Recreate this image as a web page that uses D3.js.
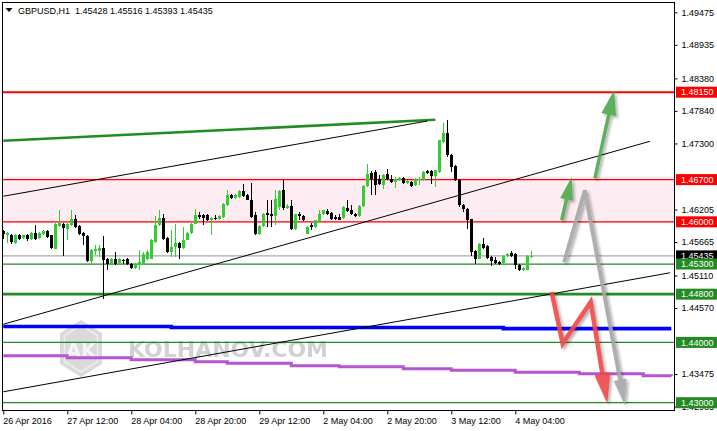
<!DOCTYPE html>
<html><head><meta charset="utf-8">
<script src="https://cdn.jsdelivr.net/npm/d3@7"></script>
<style>
html,body{margin:0;padding:0;background:#fff;}
svg{display:block;font-family:"Liberation Sans",Arial,sans-serif;}
</style></head>
<body>
<svg id="chart" width="717" height="431"></svg>
<script>
// ---------------- DATA ----------------
const symbolTitle = "GBPUSD,H1  1.45428 1.45516 1.45393 1.45435";
const timeLabels = ["26 Apr 2016","27 Apr 12:00","28 Apr 04:00","28 Apr 20:00","29 Apr 12:00","2 May 04:00","2 May 20:00","3 May 12:00","4 May 04:00"];
const timeTickBars = [0,16,32,48,64,80,96,112,128];
// axis ticks visible in the reference (1.46745 and 1.44030 are covered by level labels there)
const priceTicks = [1.49475,1.48935,1.48380,1.47840,1.47300,1.46205,1.45665,1.45110,1.44570,1.43475,1.42935];

const opens = [1.45848,1.45777,1.45777,1.45655,1.45777,1.45738,1.45777,1.45721,1.45821,1.45738,
1.45804,1.45843,1.45777,1.45555,1.45926,1.45970,1.45876,1.45942,1.46053,1.45926,
1.45815,1.45760,1.45345,1.45517,1.45511,1.45572,1.45384,1.45306,1.45384,1.45318,
1.45362,1.45378,1.45306,1.45235,1.45279,1.45306,1.45389,1.45389,1.45666,1.45942,
1.46064,1.45738,1.45500,1.45583,1.45649,1.45566,1.45705,1.45815,1.45970,1.46119,
1.46119,1.46119,1.46025,1.46070,1.46053,1.46081,1.46274,1.46451,1.46401,1.46412,
1.46512,1.46451,1.46368,1.46108,1.45793,1.45926,1.46147,1.46136,1.46091,1.46246,
1.46523,1.46235,1.46257,1.45887,1.46125,1.46103,1.45804,1.45942,1.45914,1.45997,
1.46136,1.46180,1.46152,1.46080,1.46080,1.46069,1.46235,1.46191,1.46125,1.46091,
1.46263,1.46589,1.46816,1.46827,1.46716,1.46606,1.46799,1.46716,1.46661,1.46689,
1.46727,1.46644,1.46661,1.46606,1.46689,1.46689,1.46844,1.46844,1.46761,1.46827,
1.47325,1.47474,1.47103,1.46921,1.46700,1.46285,1.46219,1.46042,1.45511,1.45389,
1.45627,1.45594,1.45417,1.45361,1.45334,1.45317,1.45433,1.45483,1.45461,1.45290,
1.45196,1.45207,1.45428];
const highs = [1.45871,1.45832,1.45793,1.45804,1.45793,1.45788,1.45804,1.45832,1.45942,1.45832,
1.45859,1.45859,1.45788,1.45987,1.46202,1.45987,1.45987,1.46191,1.46114,1.45942,
1.45832,1.45777,1.45544,1.45611,1.45622,1.45760,1.45401,1.45406,1.45500,1.45401,
1.45384,1.45395,1.45323,1.45323,1.45528,1.45495,1.45528,1.45710,1.46092,1.46191,
1.46136,1.45749,1.45859,1.45970,1.45666,1.45915,1.45832,1.45987,1.46219,1.46164,
1.46136,1.46136,1.46081,1.46108,1.46114,1.46313,1.46523,1.46468,1.46468,1.46523,
1.46634,1.46468,1.46645,1.46164,1.45942,1.46153,1.46357,1.46357,1.46523,1.46523,
1.46689,1.46291,1.46368,1.46136,1.46163,1.46114,1.45926,1.45981,1.46036,1.46202,
1.46202,1.46208,1.46163,1.46108,1.46136,1.46263,1.46368,1.46274,1.46147,1.46280,
1.46606,1.46965,1.46838,1.46855,1.46772,1.46799,1.46882,1.46772,1.46744,1.46744,
1.46744,1.46700,1.46678,1.46727,1.46744,1.46844,1.46855,1.46866,1.46866,1.47363,
1.47640,1.47695,1.47131,1.46938,1.46716,1.46302,1.46235,1.46053,1.45527,1.45649,
1.45738,1.45610,1.45439,1.45417,1.45350,1.45450,1.45483,1.45511,1.45483,1.45306,
1.45251,1.45444,1.45516];
const lows = [1.45721,1.45649,1.45638,1.45638,1.45694,1.45721,1.45683,1.45705,1.45694,1.45721,
1.45777,1.45738,1.45544,1.45544,1.45915,1.45428,1.45694,1.45931,1.45904,1.45777,
1.45611,1.45329,1.45306,1.45445,1.45417,1.44726,1.45196,1.45290,1.45279,1.45295,
1.45306,1.45290,1.45224,1.45218,1.45207,1.45295,1.45373,1.45378,1.45649,1.45926,
1.45694,1.45483,1.45417,1.45417,1.45378,1.45555,1.45694,1.45804,1.45959,1.46053,
1.45942,1.46014,1.45777,1.46025,1.46036,1.46070,1.46263,1.46385,1.46385,1.46401,
1.46412,1.46357,1.46070,1.45788,1.45777,1.45915,1.45915,1.45914,1.45942,1.46191,
1.46191,1.46213,1.45870,1.45870,1.46025,1.46009,1.45793,1.45870,1.45898,1.45981,
1.46119,1.46119,1.46025,1.46025,1.46025,1.46053,1.46163,1.46108,1.46080,1.46080,
1.46246,1.46578,1.46440,1.46440,1.46606,1.46550,1.46689,1.46644,1.46567,1.46672,
1.46633,1.46633,1.46578,1.46589,1.46606,1.46678,1.46799,1.46633,1.46578,1.46816,
1.47308,1.47076,1.46827,1.46678,1.46246,1.46163,1.45887,1.45428,1.45295,1.45378,
1.45555,1.45384,1.45267,1.45306,1.45284,1.45306,1.45417,1.45417,1.45223,1.45185,
1.45185,1.45196,1.45393];
const closes = [1.45804,1.45815,1.45666,1.45788,1.45721,1.45777,1.45710,1.45815,1.45710,1.45815,
1.45843,1.45749,1.45566,1.45970,1.45981,1.45904,1.45970,1.46053,1.45915,1.45793,
1.45760,1.45345,1.45528,1.45555,1.45566,1.45362,1.45306,1.45389,1.45306,1.45384,
1.45345,1.45306,1.45235,1.45306,1.45334,1.45472,1.45500,1.45694,1.45942,1.46064,
1.45721,1.45500,1.45583,1.45649,1.45566,1.45705,1.45815,1.45970,1.46119,1.46081,
1.46064,1.46025,1.46070,1.46053,1.46097,1.46302,1.46440,1.46401,1.46451,1.46512,
1.46424,1.46368,1.46081,1.45804,1.45926,1.46136,1.46108,1.46091,1.46373,1.46512,
1.46230,1.46268,1.45887,1.46125,1.46091,1.46025,1.45914,1.45920,1.46025,1.46125,
1.46191,1.46136,1.46053,1.46042,1.46036,1.46246,1.46180,1.46125,1.46091,1.46263,
1.46589,1.46799,1.46716,1.46606,1.46622,1.46772,1.46716,1.46661,1.46716,1.46727,
1.46644,1.46678,1.46589,1.46716,1.46716,1.46827,1.46816,1.46761,1.46855,1.47352,
1.47474,1.47103,1.46910,1.46689,1.46274,1.46219,1.46025,1.45500,1.45389,1.45627,
1.45572,1.45400,1.45345,1.45317,1.45295,1.45433,1.45472,1.45428,1.45278,1.45196,
1.45234,1.45433,1.45435];

// horizontal levels
const levelPrices = [1.48150,1.46700,1.46000,1.45435,1.45300,1.44800,1.44000,1.43000];
const levelKinds  = ["red2","red","red","current","green","green2","green","green"];
const zoneTop = 1.46755, zoneBottom = 1.45981;

// moving-average style lines: [bar, price] breakpoints (step)
const blueLine = [[0,1.44264],[42,1.44247],[125,1.44229],[167,1.44229]];
const purpleLine = [[0,1.43778],[16,1.43745],[32,1.43712],[48,1.43679],[56,1.43654],[72,1.43613],[84,1.43596],[100,1.43563],[112,1.43538],[128,1.43505],[144,1.43480],[160,1.43447],[167,1.43439]];

// trend lines [bar, price]
const greenTrend = [[0,1.47344],[108,1.47692]];
const blackUpper = [[0,1.46424],[106,1.47672]];
const blackMiddle = [[0,1.44301],[161.7,1.47336]];
const blackLower = [[0,1.43181],[166.7,1.45155]];

// scenario arrows [bar, price]
const arrowGray = [[140.2,1.45329],[145.4,1.46523],[155.4,1.42957]];
const arrowRed = [[137.1,1.44837],[139.85,1.43981],[146.85,1.44671],[151.0,1.42986]];
const arrowGreenSmall = [[139.6,1.46026],[142.1,1.46744]];
const arrowGreenBig = [[147.9,1.46722],[152.7,1.48182]];

// ---------------- DRAW ----------------
const svg = d3.select("#chart");
const L = 2.5, R = 674.5, T = 2.5, B = 410.5;
const x = d3.scaleLinear().domain([0,166]).range([3.3, 3.3 + 4*166]);
const y = d3.scaleLinear().domain([1.43, 1.49475]).range([402.7, 12.3]);

const defs = svg.append("defs");
defs.append("clipPath").attr("id","plot").append("rect").attr("x",L+0.5).attr("y",T+0.5).attr("width",R-L-1).attr("height",B-T-1);
defs.append("clipPath").attr("id","axisclip").append("rect").attr("x",R).attr("y",0).attr("width",50).attr("height",B);
const f = defs.append("filter").attr("id","shadow").attr("x","-50%").attr("y","-50%").attr("width","200%").attr("height","200%");
f.append("feDropShadow").attr("dx",2).attr("dy",2).attr("stdDeviation",1.6).attr("flood-color","#000").attr("flood-opacity",0.35);

svg.append("rect").attr("width",717).attr("height",431).attr("fill","#fff");

const plot = svg.append("g").attr("clip-path","url(#plot)");

// pink zone
plot.append("rect").attr("x",L).attr("width",R-L)
  .attr("y",y(zoneTop)).attr("height",y(zoneBottom)-y(zoneTop)).attr("fill","#fdedf2");

// watermark
const wm = plot.append("g").attr("opacity",0.9);
const hex = [[81,320],[102,333],[102,364],[81,377],[60,364],[60,333]];
wm.append("polygon").attr("points",hex.map(p=>p.join(",")).join(" ")).attr("fill","#d6d6d6");
const hex2 = [[81,325],[97.5,335.5],[97.5,361.5],[81,372],[64.5,361.5],[64.5,335.5]];
wm.append("polygon").attr("points",hex2.map(p=>p.join(",")).join(" ")).attr("fill","none").attr("stroke","#ececec").attr("stroke-width",1.5);
wm.append("text").attr("x",81).attr("y",357).attr("text-anchor","middle")
  .attr("font-family","'DejaVu Sans',sans-serif").attr("font-weight","bold").attr("font-size",19).attr("fill","#f4f4f4").text("AK");
wm.append("text").attr("x",128).attr("y",357).attr("textLength",200).attr("lengthAdjust","spacingAndGlyphs")
  .attr("font-family","'DejaVu Sans',sans-serif").attr("font-weight","bold").attr("font-size",21).attr("fill","#cdcdcd").text("KOLHANOV.COM");

// horizontal level lines
const levelStyle = {
  red2:{c:"#ff0000",w:2,bg:"#ff0000"}, red:{c:"#ff0000",w:1.2,bg:"#ff0000"},
  current:{c:"#a8a8a8",w:1.2,bg:"#000000"}, green:{c:"#228b22",w:1.2,bg:"#228b22"},
  green2:{c:"#228b22",w:2.6,bg:"#228b22"}
};
levelPrices.forEach((p,i)=>{
  const s = levelStyle[levelKinds[i]];
  plot.append("line").attr("x1",L).attr("x2",R).attr("y1",y(p)).attr("y2",y(p))
    .attr("stroke",s.c).attr("stroke-width",s.w);
});

// MA-like step lines
const stepLine = d3.line().x(d=>x(d[0])).y(d=>y(d[1])).curve(d3.curveStepAfter);
plot.append("path").attr("d",stepLine(purpleLine)).attr("fill","none").attr("stroke","#b455d3").attr("stroke-width",3);
plot.append("path").attr("d",stepLine(blueLine)).attr("fill","none").attr("stroke","#0000ff").attr("stroke-width",3.6);

// trend lines
const straight = d3.line().x(d=>x(d[0])).y(d=>y(d[1]));
plot.append("path").attr("d",straight(greenTrend)).attr("fill","none").attr("stroke","#228b22").attr("stroke-width",2.6);
[blackUpper,blackMiddle,blackLower].forEach(t=>{
  plot.append("path").attr("d",straight(t)).attr("fill","none").attr("stroke","#000").attr("stroke-width",1);
});

// candles
const cg = plot.append("g");
opens.forEach((o,i)=>{
  const h = highs[i], l = lows[i], c = closes[i];
  const bull = c > o;
  const col = bull ? "#32cd32" : "#000000";
  const cx = Math.round(x(i)) + 0.5;
  cg.append("line").attr("x1",cx).attr("x2",cx).attr("y1",y(h)).attr("y2",y(l))
    .attr("stroke",col).attr("stroke-width",1).attr("shape-rendering","crispEdges");
  const yt = Math.round(y(Math.max(o,c))), yb = Math.round(y(Math.min(o,c)));
  cg.append("rect").attr("x",cx-1.5).attr("width",3).attr("y",yt).attr("height",Math.max(1,yb-yt))
    .attr("fill",col).attr("shape-rendering","crispEdges");
});

// arrows
function drawArrow(pts, color, sw, headLen, headW){
  const P = pts.map(d=>[x(d[0]), y(d[1])]);
  const n = P.length;
  const tip = P[n-1], prev = P[n-2];
  const dx = tip[0]-prev[0], dy = tip[1]-prev[1], len = Math.hypot(dx,dy);
  const ux = dx/len, uy = dy/len;
  const base = [tip[0]-ux*headLen, tip[1]-uy*headLen];
  const shaft = P.slice(0,n-1).concat([[tip[0]-ux*headLen*0.7, tip[1]-uy*headLen*0.7]]);
  const g = plot.append("g").attr("filter","url(#shadow)").attr("opacity",0.9);
  g.append("path").attr("d",d3.line()(shaft)).attr("fill","none").attr("stroke",color)
    .attr("stroke-width",sw).attr("stroke-linejoin","miter").attr("stroke-linecap","butt");
  const px = -uy, py = ux;
  const head = [tip,[base[0]+px*headW/2, base[1]+py*headW/2],[base[0]-px*headW/2, base[1]-py*headW/2]];
  g.append("polygon").attr("points",head.map(p=>p.join(",")).join(" ")).attr("fill",color);
}
drawArrow(arrowGray, "#a6a6a6", 4, 26, 13);
drawArrow(arrowRed, "#f04646", 4.5, 30, 16);
drawArrow(arrowGreenSmall, "#4caa4c", 3.5, 23, 13);
drawArrow(arrowGreenBig, "#4caa4c", 3.5, 25, 15);

// title
svg.append("path").attr("d","M5.5,8 L12.5,8 L9,12 Z").attr("fill","#000");
svg.append("text").attr("x",18).attr("y",14).attr("font-size",9).attr("fill","#000")
  .attr("xml:space","preserve").style("white-space","pre").text(symbolTitle);

// right axis
const ax = svg.append("g").attr("clip-path","url(#axisclip)").append("g")
  .attr("transform",`translate(${R},0)`)
  .call(d3.axisRight(y).tickValues(priceTicks).tickSize(3).tickPadding(4).tickFormat(d3.format(".5f")));
ax.select(".domain").remove();
ax.selectAll("text").attr("font-size",9).attr("font-family","'Liberation Sans',Arial,sans-serif").attr("fill","#000");

// price labels
levelPrices.forEach((p,i)=>{
  const s = levelStyle[levelKinds[i]];
  const g = svg.append("g");
  g.append("rect").attr("x",R+1.5).attr("y",y(p)-5.5).attr("width",717-R-1.5).attr("height",11).attr("fill",s.bg);
  g.append("text").attr("x",R+6.5).attr("y",y(p)).attr("dy","0.35em").attr("font-size",9)
    .attr("fill","#fff").text(d3.format(".5f")(p));
});

// bottom axis
const bx = svg.append("g").attr("transform",`translate(0,${B})`)
  .call(d3.axisBottom(x).tickValues(timeTickBars).tickSize(4).tickPadding(3).tickFormat((d,i)=>timeLabels[i]));
bx.select(".domain").remove();
bx.selectAll("text").attr("text-anchor","start").attr("x",-0.5).attr("font-size",9)
  .attr("font-family","'Liberation Sans',Arial,sans-serif").attr("fill","#000");

// frame
svg.append("rect").attr("x",L).attr("y",T).attr("width",R-L).attr("height",B-T)
  .attr("fill","none").attr("stroke","#000").attr("stroke-width",1);
</script>
</body></html>
